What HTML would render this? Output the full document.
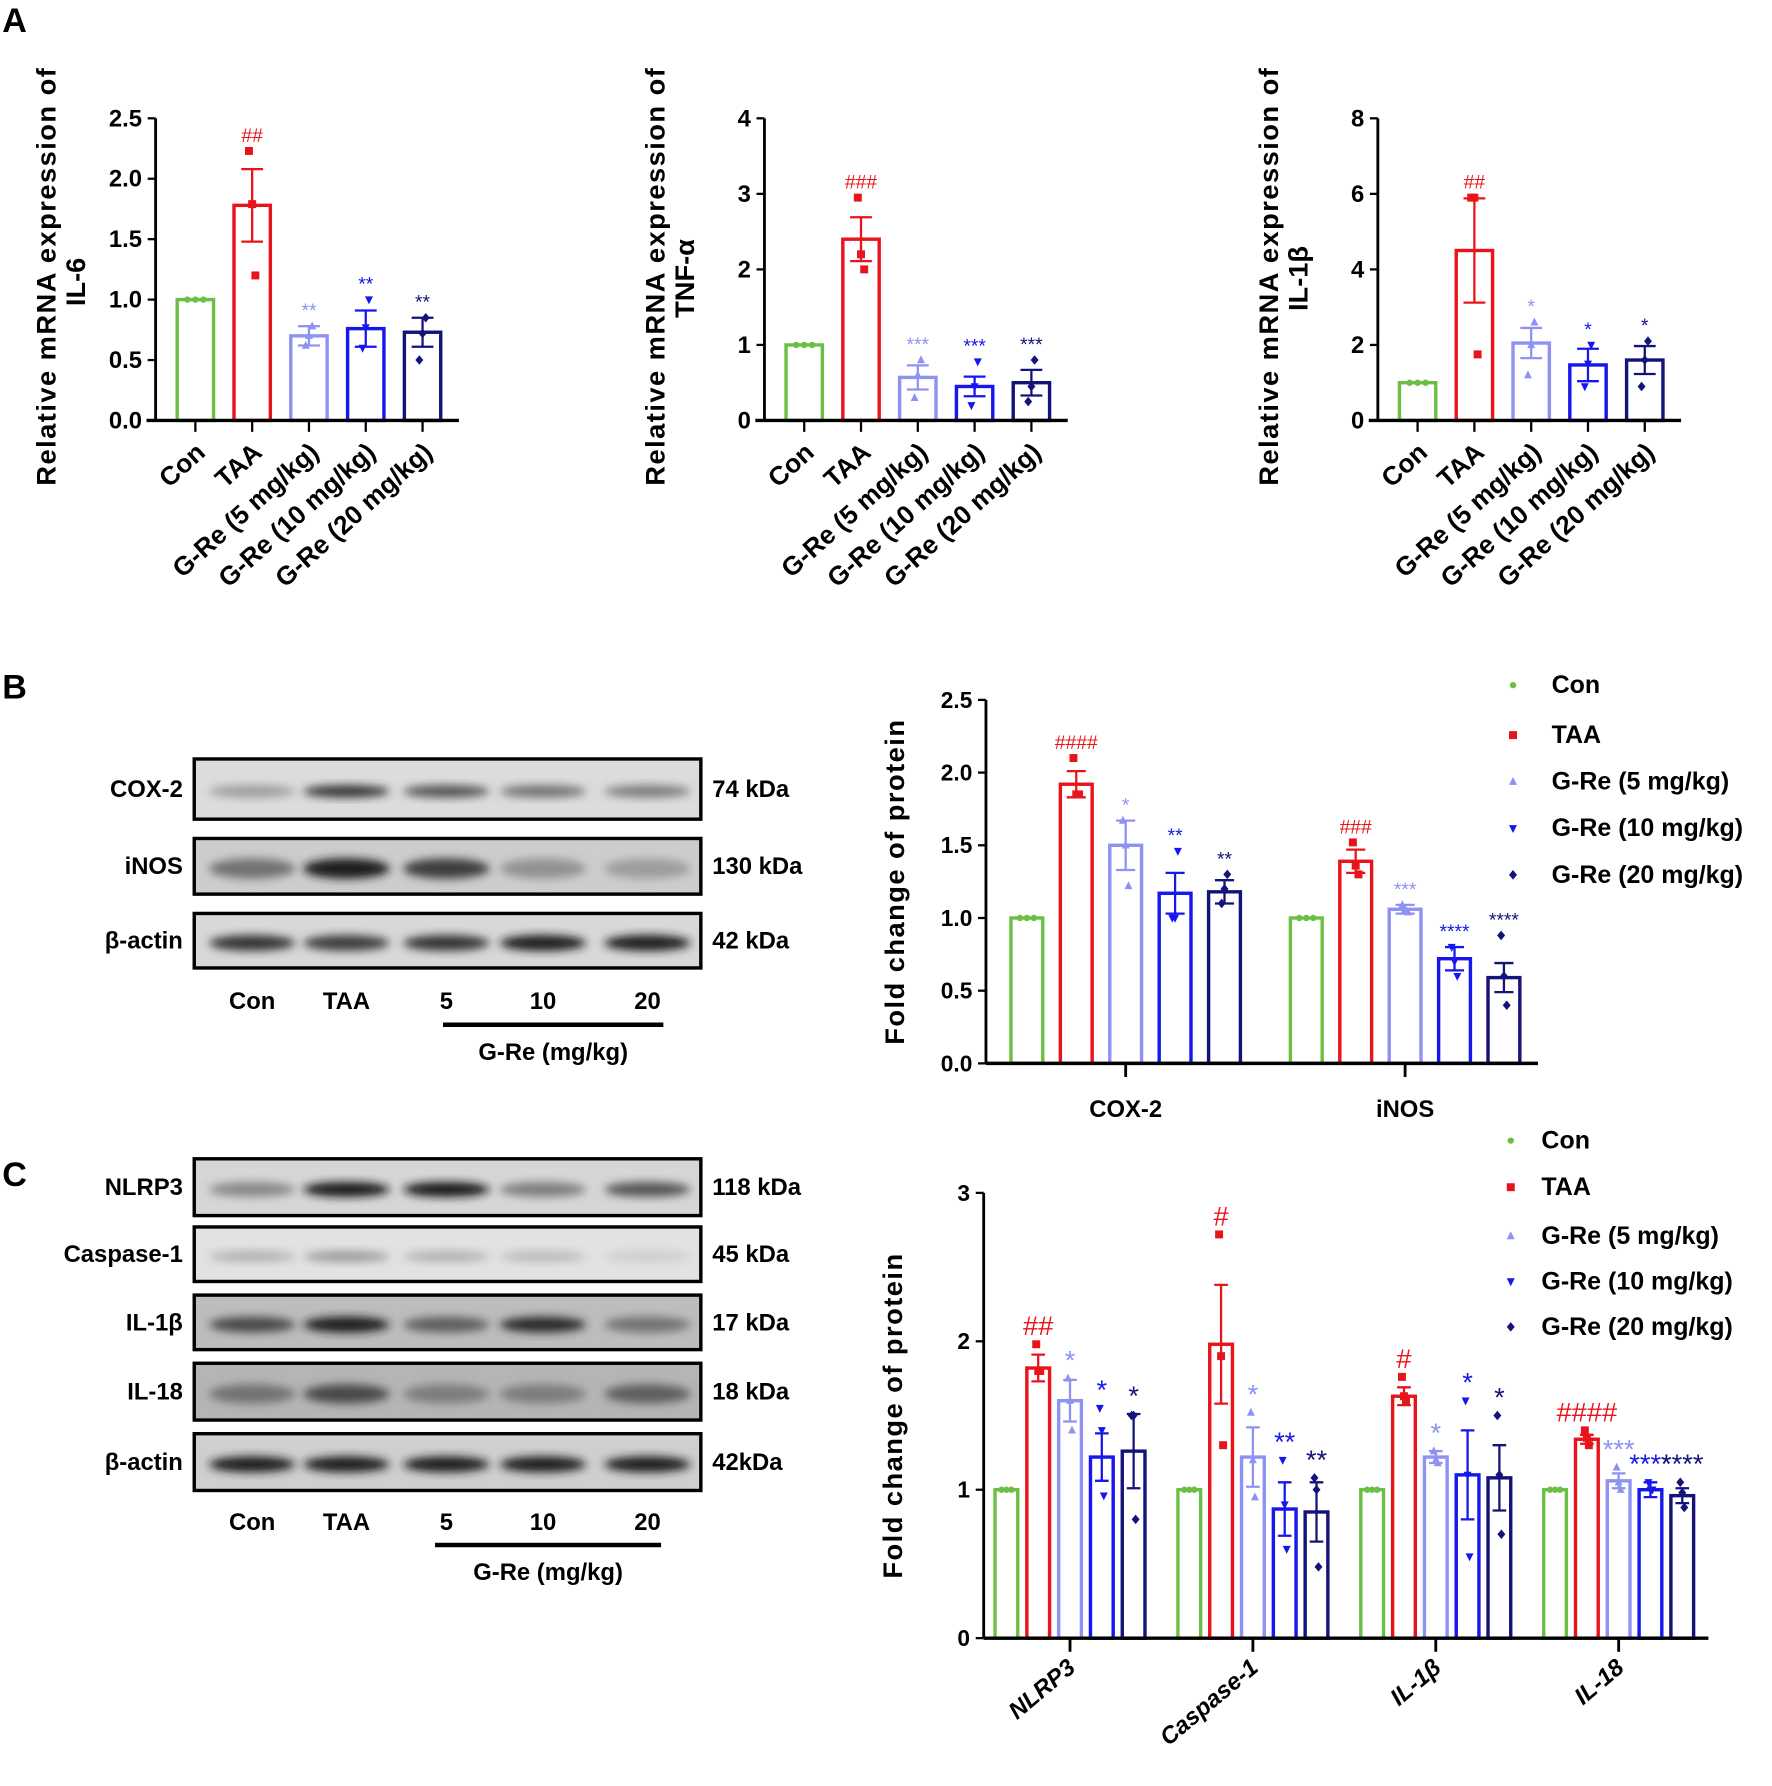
<!DOCTYPE html>
<html><head><meta charset="utf-8"><style>
html,body{margin:0;padding:0;background:#fff}
svg{display:block;font-family:"Liberation Sans",Arial,sans-serif;font-weight:bold}
</style></head><body>
<svg id="fig" width="1772" height="1786" viewBox="0 0 1560 1572" xmlns="http://www.w3.org/2000/svg">
<defs>
<filter id="blur" x="-20%" y="-50%" width="140%" height="200%"><feGaussianBlur stdDeviation="4"/></filter>
</defs>
<g><text x="2" y="28" font-size="30">A</text></g>
<g><text x="2" y="615" font-size="30">B</text></g>
<g><text x="2" y="1044" font-size="30">C</text></g>
<g id="charts"></g>
<g id="blots"></g>
</svg>
<script>
// ---------- data ----------
const groups = ["Con","TAA","G-Re (5 mg/kg)","G-Re (10 mg/kg)","G-Re (20 mg/kg)"];
const colors = ["#6bbf45","#e8141b","#8e93f2","#1616ee","#13137a"];
const shapes = ["circle","square","tri","tridown","diamond"];

const il6Vals = [1.0,1.78,0.70,0.76,0.73];
const il6Err  = [0.0,0.30,0.08,0.15,0.12];
const il6Pts  = [[1,1,1],[2.23,1.79,1.2],[0.62,0.7,0.78],[0.6,0.77,1.0],[0.5,0.72,0.85]];
const il6Sig  = ["","##","**","**","**"];
const il6Ticks = [0,0.5,1.0,1.5,2.0,2.5];

const tnfVals = [1.0,2.4,0.57,0.45,0.50];
const tnfErr  = [0.0,0.29,0.16,0.13,0.17];
const tnfPts  = [[1,1,1],[2.95,2.2,2.0],[0.3,0.6,0.8],[0.2,0.45,0.78],[0.25,0.45,0.8]];
const tnfSig  = ["","###","***","***","***"];
const tnfTicks = [0,1,2,3,4];

const il1bVals = [1.0,4.5,2.05,1.47,1.6];
const il1bErr  = [0.0,1.38,0.4,0.43,0.37];
const il1bPts  = [[1,1,1],[5.9,5.9,1.75],[1.2,2.0,2.6],[0.9,1.5,2.0],[0.9,1.6,2.1]];
const il1bSig  = ["","##","*","*","*"];
const il1bTicks = [0,2,4,6,8];

const bCats = ["COX-2","iNOS"];
const bVals = [[1,1.92,1.5,1.17,1.18],[1,1.39,1.06,0.72,0.59]];
const bErr  = [[0,0.09,0.17,0.14,0.08],[0,0.08,0.03,0.08,0.1]];
const bPts  = [[[1,1,1],[2.1,1.85,1.85],[1.67,1.5,1.22],[1.0,1.0,1.46],[1.1,1.2,1.3]],
               [[1,1,1],[1.52,1.36,1.3],[1.09,1.06,1.04],[0.8,0.7,0.6],[0.88,0.6,0.4]]];
const bSig  = [["","####","*","**","**"],["","###","***","****","****"]];
const bTicks = [0,0.5,1.0,1.5,2.0,2.5];

const cCats = ["NLRP3","Caspase-1","IL-1β","IL-18"];
const cVals = [[1,1.82,1.6,1.22,1.26],[1,1.98,1.22,0.87,0.85],[1,1.63,1.22,1.1,1.08],[1,1.34,1.06,1.0,0.96]];
const cErr  = [[0,0.09,0.14,0.16,0.25],[0,0.4,0.2,0.18,0.2],[0,0.06,0.04,0.3,0.22],[0,0.03,0.05,0.05,0.05]];
const cPts  = [[[1,1,1],[1.98,1.8,1.8],[1.75,1.6,1.4],[1.55,1.4,0.96],[1.5,1.5,0.8]],
               [[1,1,1],[2.72,1.9,1.3],[1.52,1.2,0.95],[1.2,0.9,0.6],[1.08,1.0,0.48]],
               [[1,1,1],[1.76,1.63,1.6],[1.26,1.2,1.18],[1.6,1.1,0.55],[1.5,1.1,0.7]],
               [[1,1,1],[1.4,1.35,1.3],[1.15,1.05,1.0],[1.05,1.0,1.0],[1.05,0.98,0.88]]];
const cSig  = [["","##","*","*","*"],["","#","*","**","**"],["","#","*","*","*"],["","####","***","****","****"]];
const cTicks = [0,1,2,3];

// ---------- helpers ----------
const NS="http://www.w3.org/2000/svg";
const root=document.getElementById('charts');
function mk(tag,attrs,parent){const e=document.createElementNS(NS,tag);for(const k in attrs)e.setAttribute(k,attrs[k]);(parent||root).appendChild(e);return e;}
function marker(shape,x,y,s,col,parent){
  let e;
  if(shape==="circle") e=mk('circle',{cx:x,cy:y,r:s*0.8,fill:col},parent);
  else if(shape==="square") e=mk('rect',{x:x-s,y:y-s,width:2*s,height:2*s,fill:col},parent);
  else if(shape==="tri") e=mk('polygon',{points:`${x},${y-s*1.2} ${x-s},${y+s*0.8} ${x+s},${y+s*0.8}`,fill:col},parent);
  else if(shape==="tridown") e=mk('polygon',{points:`${x},${y+s*1.2} ${x-s},${y-s*0.8} ${x+s},${y-s*0.8}`,fill:col},parent);
  else e=mk('polygon',{points:`${x},${y-s*1.2} ${x+s},${y} ${x},${y+s*1.2} ${x-s},${y}`,fill:col},parent);
  return e;
}
function drawBars(g,xs,vals,errs,pts,sigs,yS,bw,sigSize){
  for(let i=0;i<vals.length;i++){
    const x=xs[i],col=colors[i],y0=yS(0),yv=yS(vals[i]);
    const bar=mk('rect',{x:x-bw/2,y:yv,width:bw,height:y0-yv,fill:'none',stroke:col,'stroke-width':3},g);
    
    
    if(errs[i]>0){
      const ye1=yS(vals[i]+errs[i]),ye2=yS(vals[i]-errs[i]);
      const eb=mk('path',{d:`M${x},${ye2}V${ye1}M${x-bw*0.3},${ye1}H${x+bw*0.3}M${x-bw*0.3},${ye2}H${x+bw*0.3}`,stroke:col,'stroke-width':2,fill:'none'},g);
      
      
    }
    const off=[-bw*0.22,0,bw*0.22];
    pts[i].forEach((p,j)=>{
      const m=marker(shapes[i],x+(i===0?off[j]:off[j]*0.4),yS(p),3.5,col,g);
      
      
    });
    if(sigs[i]){
      const top=Math.max(vals[i]+errs[i],Math.max(...pts[i]));
      const t=mk('text',{x:x,y:yS(top)-8,'text-anchor':'middle','font-size':sigSize,fill:col,'font-weight':'normal'},g);
      t.textContent=sigs[i];
      
      
    }
  }
}
function yAxis(g,ax,yS,ticks,fmt,fs,x0,x1){
  mk('line',{x1:ax,x2:ax,y1:yS(ticks[ticks.length-1]),y2:yS(0),stroke:'#000','stroke-width':2.5},g);
  ticks.forEach(t=>{
    mk('line',{x1:ax-7,x2:ax,y1:yS(t),y2:yS(t),stroke:'#000','stroke-width':2},g);
    const tx=mk('text',{x:ax-12,y:yS(t)+7,'text-anchor':'end','font-size':fs},g);
    tx.textContent=fmt(t);
    
    
  });
  mk('line',{x1:x0,x2:x1,y1:yS(0),y2:yS(0),stroke:'#000','stroke-width':3},g);
}

// ---------- panel A ----------
function panelA(name,ax,vals,errs,pts,sigs,ticks,fmt,titleLine2){
  const g=mk('g',{});
  
  
  const yTop=104,yBot=370,max=ticks[ticks.length-1];
  const yS=v=>yBot-(v/max)*(yBot-yTop);
  const xs=groups.map((_,i)=>ax+35+i*50);
  drawBars(g,xs,vals,errs,pts,sigs,yS,32,17);
  yAxis(g,ax,yS,ticks,fmt,21,ax-8,ax+267);
  xs.forEach((x,i)=>{
    mk('line',{x1:x,x2:x,y1:yBot,y2:yBot+10,stroke:'#000','stroke-width':2},g);
    const t=mk('text',{transform:`translate(${x+10},${yBot+30}) rotate(-42)`,'text-anchor':'end','font-size':23},g);
    t.textContent=groups[i];
    
    
  });
  const t1=mk('text',{transform:`translate(${ax-88},243) rotate(-90)`,'text-anchor':'middle','font-size':24,'letter-spacing':'1.3'},g);
  t1.textContent="Relative mRNA expression of";
  
  
  const t2=mk('text',{transform:`translate(${ax-62},${titleLine2[1]}) rotate(-90)`,'text-anchor':'middle','font-size':24},g);
  t2.textContent=titleLine2[0];
  
  
}
panelA('chart-il6',137,il6Vals,il6Err,il6Pts,il6Sig,il6Ticks,v=>v.toFixed(1),["IL-6",248]);
panelA('chart-tnf',673,tnfVals,tnfErr,tnfPts,tnfSig,tnfTicks,v=>String(v),["TNF-α",245]);
panelA('chart-il1b',1213,il1bVals,il1bErr,il1bPts,il1bSig,il1bTicks,v=>String(v),["IL-1β",245]);

// ---------- grouped charts ----------
function grouped(name,ax,yTop,yBot,xEnd,cats,vals,errs,pts,sigs,ticks,fmt,firstX,gap,groupStep,bw,rotateLabels,catLabelY,sigSize){
  const g=mk('g',{});
  
  
  const max=ticks[ticks.length-1];
  const yS=v=>yBot-(v/max)*(yBot-yTop);
  cats.forEach((c,k)=>{
    const xs=groups.map((_,i)=>firstX+k*groupStep+i*gap);
    drawBars(g,xs,vals[k],errs[k],pts[k],sigs[k],yS,bw,sigSize);
    const cx=xs[2];
    mk('line',{x1:cx,x2:cx,y1:yBot,y2:yBot+12,stroke:'#000','stroke-width':2.5},g);
    const t=mk('text',{'font-size':21},g);
    if(rotateLabels){t.setAttribute('transform',`translate(${cx+6},${catLabelY}) rotate(-40)`);t.setAttribute('text-anchor','end');t.setAttribute('font-style','italic');}
    else{t.setAttribute('x',cx);t.setAttribute('y',catLabelY);t.setAttribute('text-anchor','middle');}
    t.textContent=c;
    
    
  });
  yAxis(g,ax,yS,ticks,fmt,20,ax,xEnd);
  const tt=mk('text',{transform:`translate(${ax-72},${(yTop+yBot)/2}) rotate(-90)`,'text-anchor':'middle','font-size':24,'letter-spacing':'1.3'},g);
  tt.textContent="Fold change of protein";
  
  
}
grouped('chart-b',868,616,936,1354,bCats,bVals,bErr,bPts,bSig,bTicks,v=>v.toFixed(1),904,43.5,246,28,false,983,17);
grouped('chart-c',866,1050,1442,1504,cCats,cVals,cErr,cPts,cSig,cTicks,v=>String(v),886,28,161,20,true,1470,24);

function legend(name,mx,tx,ys){
  const g=mk('g',{});
  
  
  groups.forEach((n,i)=>{
    const e=mk('g',{},g);
    
    
    marker(shapes[i],mx,ys[i],3.5,colors[i],e);
    const t=mk('text',{x:tx,y:ys[i]+7,'font-size':22},e);
    t.textContent=n;
  });
}
legend('legend-b',1332,1366,[603,647,688,729,770]);
legend('legend-c',1330,1357,[1004,1045,1088,1128,1168]);

// ---------- blots ----------
const broot=document.getElementById('blots');
const lanes=[222,305,393,478,570];
const bBlots=[["COX-2","74 kDa",668,721,"#dcdcdc",[0.35,0.85,0.7,0.55,0.5],7],
              ["iNOS","130 kDa",738,787,"#cdcdcd",[0.55,0.95,0.8,0.4,0.35],14],
              ["β-actin","42 kDa",804,852,"#d8d8d8",[0.85,0.8,0.85,0.95,0.95],10]];
const cBlots=[["NLRP3","118 kDa",1020,1070,"#d6d6d6",[0.45,1,1,0.5,0.7],9],
              ["Caspase-1","45 kDa",1080,1128,"#e2e2e2",[0.25,0.35,0.25,0.2,0.12],6],
              ["IL-1β","17 kDa",1140,1188,"#bdbdbd",[0.75,0.95,0.65,0.9,0.55],10],
              ["IL-18","18 kDa",1200,1250,"#b5b5b5",[0.55,0.75,0.5,0.5,0.65],13],
              ["β-actin","42kDa",1262,1312,"#cfcfcf",[0.95,0.95,0.95,0.95,0.95],10]];
function blotPanel(name,list,labY,lineY,lineX0,lineX1,grY){
  const g=mk('g',{},broot);
  
  
  list.forEach(b=>{
    const [lab,kd,y0,y1,bg,ints,th]=b;
    const bg2=mk('g',{},g);
    
    
    mk('rect',{x:171,y:y0,width:446,height:y1-y0,fill:bg},bg2);
    const my=(y0+y1)/2;
    ints.forEach((v,i)=>{
      const c=Math.round(230-210*v);
      mk('ellipse',{cx:lanes[i],cy:my+2,rx:38,ry:th/2+2,fill:`rgb(${c},${c},${c})`,filter:'url(#blur)'},bg2);
    });
    mk('rect',{x:171,y:y0,width:446,height:y1-y0,fill:'none',stroke:'#000','stroke-width':3},bg2);
    const l=mk('text',{x:161,y:my+7,'text-anchor':'end','font-size':21},bg2);l.textContent=lab;
    const k=mk('text',{x:627,y:my+7,'font-size':21},bg2);k.textContent=kd;
  });
  ["Con","TAA","5","10","20"].forEach((s,i)=>{
    const t=mk('text',{x:lanes[i],y:labY,'text-anchor':'middle','font-size':21},g);t.textContent=s;
    
    
  });
  mk('line',{x1:lineX0,x2:lineX1,y1:lineY,y2:lineY,stroke:'#000','stroke-width':4},g);
  const gr=mk('text',{x:(lineX0+lineX1)/2,y:grY,'text-anchor':'middle','font-size':21},g);gr.textContent="G-Re (mg/kg)";
}
blotPanel('western-blot-b',bBlots,888,902,390,584,933);
blotPanel('western-blot-c',cBlots,1347,1360,383,582,1391);
</script>
</body></html>
